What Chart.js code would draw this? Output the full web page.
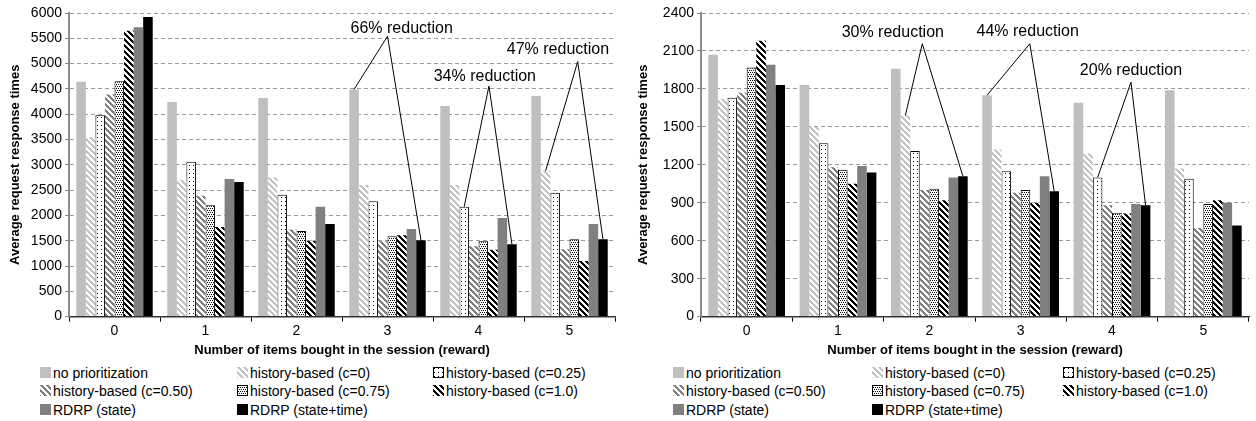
<!DOCTYPE html>
<html>
<head>
<meta charset="utf-8">
<script src="https://cdn.jsdelivr.net/npm/chart.js@4.4.1/dist/chart.umd.min.js"></script>
<style>
  body { margin: 0; background: #fff; font-family: 'Liberation Sans', Arial, sans-serif; }
  .panel { position: absolute; top: 0; width: 628px; height: 421px; }
  .panel canvas.chart { position: absolute; left: 0; top: 0; }
  .item { position: absolute; height: 18px; line-height: 18px; font-size: 14px; color: #000; white-space: nowrap; }
  .item canvas { position: absolute; left: 0; top: 3px; }
  .item span { position: absolute; left: 13px; top: 0; }
</style>
</head>
<body>
<div class="panel" id="leftPanel" style="left:0"><canvas class="chart" id="leftChart" width="628" height="362"></canvas></div>
<div class="panel" id="rightPanel" style="left:628px"><canvas class="chart" id="rightChart" width="628" height="362"></canvas></div>
<script>
// categories: number of items bought in the session
const categories = ['0', '1', '2', '3', '4', '5'];
const seriesNames = [
    'no prioritization', 'history-based (c=0)', 'history-based (c=0.25)',
    'history-based (c=0.50)', 'history-based (c=0.75)', 'history-based (c=1.0)',
    'RDRP (state)', 'RDRP (state+time)'
];

// left panel values
const noPrioLeft     = [4640, 4240, 4320, 4490, 4160, 4360];
const c0Left         = [3550, 2700, 2750, 2600, 2600, 2880];
const c025Left       = [3980, 3060, 2410, 2280, 2170, 2450];
const c050Left       = [4390, 2390, 1720, 1490, 1390, 1330];
const c075Left       = [4650, 2200, 1690, 1590, 1490, 1530];
const c100Left       = [5650, 1770, 1500, 1610, 1320, 1100];
const rdrpStateLeft  = [5720, 2720, 2170, 1730, 1950, 1830];
const rdrpTimeLeft   = [5920, 2660, 1830, 1510, 1430, 1530];

// right panel values
const noPrioRight    = [2070, 1830, 1960, 1750, 1690, 1790];
const c0Right        = [1720, 1500, 1590, 1320, 1290, 1170];
const c025Right      = [1730, 1370, 1310, 1150, 1100, 1090];
const c050Right      = [1770, 1180, 1000, 980, 880, 700];
const c075Right      = [1970, 1160, 1010, 1000, 820, 890];
const c100Right      = [2180, 1050, 920, 900, 815, 920];
const rdrpStateRight = [1990, 1190, 1100, 1110, 890, 900];
const rdrpTimeRight  = [1830, 1140, 1110, 990, 880, 720];

// y axis ticks
const leftTicks = [0, 500, 1000, 1500, 2000, 2500, 3000, 3500, 4000, 4500, 5000, 5500, 6000];
const rightTicks = [0, 300, 600, 900, 1200, 1500, 1800, 2100, 2400];

// reduction callouts: from/to = [series, category]
const leftNotes = [
    { text: '66% reduction', from: [0, 3], to: [7, 3], label: [3.156, 5700], apex: [3.0, 5540] },
    { text: '34% reduction', from: [2, 4], to: [7, 4], label: [4.07, 4750], apex: [4.115, 4556] },
    { text: '47% reduction', from: [1, 5], to: [7, 5], label: [4.873, 5285], apex: [5.09, 5040] }
];
const rightNotes = [
    { text: '30% reduction', from: [1, 2], to: [7, 2], label: [1.60, 2242], apex: [1.923, 2157] },
    { text: '44% reduction', from: [0, 3], to: [7, 3], label: [3.077, 2250], apex: [3.10, 2157] },
    { text: '20% reduction', from: [2, 4], to: [7, 4], label: [4.208, 1945], apex: [4.208, 1853] }
];

const FONT = "'Liberation Sans', Arial, sans-serif";
Chart.defaults.font.family = FONT;
Chart.defaults.color = '#000';

// pixel patterns for the hatched bars
function tile(w, h, on, color) {
    const c = document.createElement('canvas');
    c.width = w; c.height = h;
    const g = c.getContext('2d');
    g.fillStyle = '#fff';
    g.fillRect(0, 0, w, h);
    g.fillStyle = color;
    for (let y = 0; y < h; y++) {
        for (let x = 0; x < w; x++) {
            if (on(x, y)) g.fillRect(x, y, 1, 1);
        }
    }
    return c;
}
const stripe = (col) => tile(6, 6, (x, y) => ((x - y + 12) % 6) < 3, col);
const tiles = [
    null,
    stripe('#c4c4c4'),
    tile(4, 4, (x, y) => x === 1 && y === 1, '#000'),
    stripe('#808080'),
    tile(4, 4, (x, y) => (y === 0 && x % 2 === 0) || (y === 2 && x % 2 === 1), '#000'),
    stripe('#000'),
    null,
    null
];
const solid = ['#bfbfbf', null, null, null, null, null, '#808080', '#000000'];
const bordered = [false, false, true, false, true, false, false, false];

function fillFor(ctx, i) {
    return tiles[i] ? ctx.createPattern(tiles[i], 'repeat') : solid[i];
}

// draws the callout text and the two lines to the bar tops
const calloutPlugin = {
    id: 'callouts',
    afterDatasetsDraw(chart, args, opts) {
        const ctx = chart.ctx;
        const xs = chart.scales.x, ys = chart.scales.y;
        ctx.save();
        ctx.strokeStyle = '#000';
        ctx.lineWidth = 1;
        ctx.fillStyle = '#000';
        ctx.font = '16px ' + FONT;
        ctx.textAlign = 'center';
        ctx.textBaseline = 'middle';
        opts.notes.forEach(n => {
            const ax = xs.getPixelForValue(n.apex[0]);
            const ay = ys.getPixelForValue(n.apex[1]);
            const b1 = chart.getDatasetMeta(n.from[0]).data[n.from[1]];
            const b2 = chart.getDatasetMeta(n.to[0]).data[n.to[1]];
            ctx.beginPath();
            ctx.moveTo(b1.x, b1.y);
            ctx.lineTo(ax, ay);
            ctx.lineTo(b2.x, b2.y);
            ctx.stroke();
            ctx.fillText(n.text, xs.getPixelForValue(n.label[0]), ys.getPixelForValue(n.label[1]));
        });
        ctx.restore();
    }
};

function makeChart(canvasId, series, yMax, ySteps, notes, yWidth, padRight) {
    const ctx = document.getElementById(canvasId).getContext('2d');
    return new Chart(ctx, {
        type: 'bar',
        data: {
            labels: categories,
            datasets: series.map((vals, i) => ({
                label: seriesNames[i],
                data: vals,
                backgroundColor: fillFor(ctx, i),
                borderColor: '#000',
                borderWidth: bordered[i] ? 1 : 0,
                borderSkipped: 'bottom',
                barPercentage: 1.0,
                categoryPercentage: 0.84
            }))
        },
        options: {
            responsive: false,
            animation: false,
            layout: { padding: { top: 13, right: padRight, bottom: 4, left: 0 } },
            plugins: {
                legend: { display: false },
                tooltip: { enabled: false },
                callouts: { notes: notes }
            },
            scales: {
                x: {
                    offset: true,
                    grid: {
                        offset: true,
                        drawOnChartArea: false,
                        drawTicks: true,
                        tickLength: 5,
                        color: '#000'
                    },
                    border: { color: '#333', width: 1.5 },
                    ticks: { font: { size: 14 }, color: '#000', padding: 1 },
                    title: {
                        display: true,
                        text: 'Number of items bought in the session (reward)',
                        font: { size: 13, weight: 'bold' },
                        padding: { top: 2, bottom: 0 }
                    }
                },
                y: {
                    min: 0,
                    max: yMax,
                    afterBuildTicks: (scale) => { scale.ticks = ySteps.map(v => ({ value: v })); },
                    afterFit: (scale) => { scale.width = yWidth; },
                    grid: {
                        color: '#9a9a9a',
                        tickColor: '#888',
                        tickLength: 4
                    },
                    border: { color: '#8c8c8c', width: 2, dash: [4, 3] },
                    ticks: {
                        font: { size: 14 },
                        color: '#000',
                        padding: 3,
                        callback: (v) => String(v)
                    },
                    title: {
                        display: true,
                        text: 'Average request response times',
                        font: { size: 13, weight: 'bold' },
                        padding: { top: 8, bottom: 2 }
                    }
                }
            }
        },
        plugins: [calloutPlugin]
    });
}

makeChart('leftChart',
    [noPrioLeft, c0Left, c025Left, c050Left, c075Left, c100Left, rdrpStateLeft, rdrpTimeLeft],
    6000, leftTicks, leftNotes, 69, 13);
makeChart('rightChart',
    [noPrioRight, c0Right, c025Right, c050Right, c075Right, c100Right, rdrpStateRight, rdrpTimeRight],
    2400, rightTicks, rightNotes, 73, 7);

// three-column legend under each chart
function buildLegend(panelId, cols) {
    const panel = document.getElementById(panelId);
    const rows = [364, 382, 401];
    seriesNames.forEach((name, i) => {
        const item = document.createElement('div');
        item.className = 'item';
        item.style.left = cols[i % 3] + 'px';
        item.style.top = rows[Math.floor(i / 3)] + 'px';
        const sw = document.createElement('canvas');
        sw.width = 11; sw.height = 11;
        const g = sw.getContext('2d');
        g.fillStyle = fillFor(g, i);
        g.fillRect(0, 0, 11, 11);
        if (bordered[i]) {
            g.strokeStyle = '#000';
            g.lineWidth = 1;
            g.strokeRect(0.5, 0.5, 10, 10);
        }
        const label = document.createElement('span');
        label.textContent = name;
        item.appendChild(sw);
        item.appendChild(label);
        panel.appendChild(item);
    });
}
buildLegend('leftPanel', [40, 237, 433]);
buildLegend('rightPanel', [45, 244, 435]);
</script>
</body>
</html>
